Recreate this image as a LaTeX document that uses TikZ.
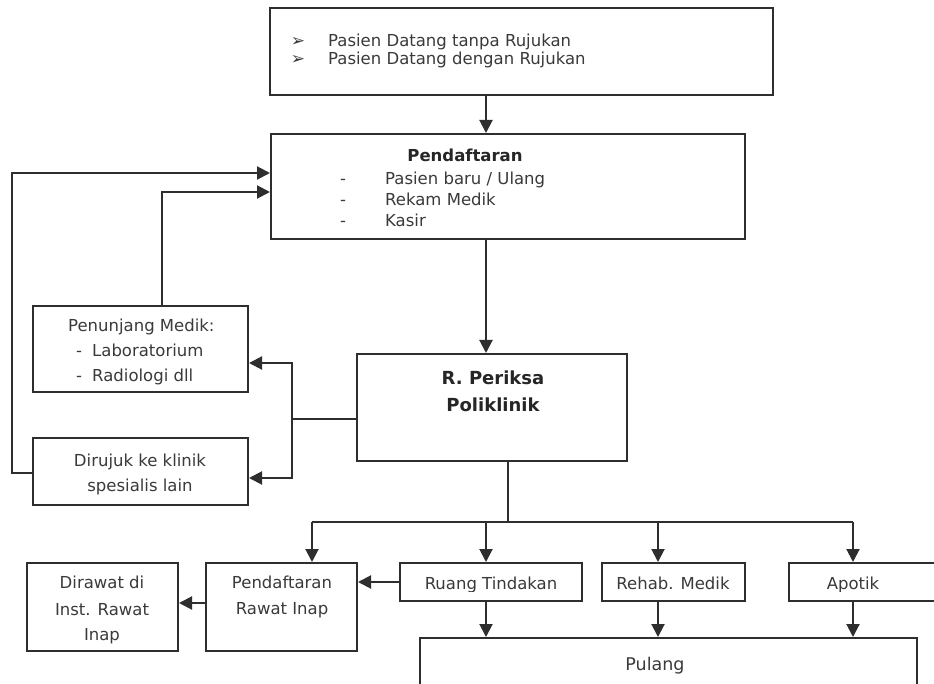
\documentclass[tikz,border=0pt]{standalone}
\usepackage{fontspec}
\setmainfont{DejaVu Sans}
\usetikzlibrary{arrows.meta}
\definecolor{ink}{HTML}{2E2E2E}
\definecolor{txtc}{HTML}{3A3A3A}
\begin{document}
\begin{tikzpicture}[x=1pt,y=-1pt,
  box/.style={draw=ink, line width=2pt, inner sep=0pt, fill=white},
  txt/.style={text=txtc, font=\fontsize{16.5}{19}\selectfont, inner sep=0pt, text height=12pt, text depth=3.5pt},
  btxt/.style={text=black!85, font=\bfseries\fontsize{16.5}{19}\selectfont, inner sep=0pt, text height=12pt, text depth=3.5pt},
  arr/.style={draw=ink, line width=2pt, -{Triangle[length=13pt,width=13pt]}},
  ln/.style={draw=ink, line width=2pt}]
\clip (0,0) rectangle (934,684);
\fill[white] (0,0) rectangle (934,684);

% boxes
\node[box, minimum width=503pt, minimum height=87pt] (top) at (521.5,51.5) {};
\node[box, minimum width=474pt, minimum height=105pt] (pend) at (508,186.5) {};
\node[box, minimum width=270pt, minimum height=107pt] (perik) at (492,407.5) {};
\node[box, minimum width=215pt, minimum height=86pt] (penun) at (140.5,349) {};
\node[box, minimum width=215pt, minimum height=67pt] (diruj) at (140.5,471.5) {};
\node[box, minimum width=151pt, minimum height=88pt] (dirawat) at (102.5,607) {};
\node[box, minimum width=151pt, minimum height=88pt] (pri) at (281.5,607) {};
\node[box, minimum width=182pt, minimum height=38pt] (ruang) at (491,582) {};
\node[box, minimum width=143pt, minimum height=38pt] (rehab) at (673.5,582) {};
\node[box, minimum width=151pt, minimum height=38pt] (apotik) at (864.5,582) {};
\node[box, minimum width=497pt, minimum height=62pt] (pulang) at (668.5,669) {};

% texts
\node[txt, font=\fontsize{17}{19}\selectfont] (b1) at (298,42) {➢};
\node[txt, font=\fontsize{17}{19}\selectfont] (b2) at (298,60) {➢};
\node[txt, anchor=west] (t1) at (328,42) {Pasien Datang tanpa Rujukan};
\node[txt, anchor=west] (t2) at (328,60) {Pasien Datang dengan Rujukan};

\node[btxt] (pt) at (465,157) {Pendaftaran};
\node[txt] (d1) at (343,180) {-};
\node[txt] (d2) at (343,201) {-};
\node[txt] (d3) at (343,222) {-};
\node[txt, anchor=west] (p1) at (385,180) {Pasien baru / Ulang};
\node[txt, anchor=west] (p2) at (385,201) {Rekam Medik};
\node[txt, anchor=west] (p3) at (385,222) {Kasir};

\node[btxt, font=\bfseries\fontsize{18}{21}\selectfont] (r1) at (493,380) {R. Periksa};
\node[btxt, font=\bfseries\fontsize{18}{21}\selectfont] (r2) at (493,407) {Poliklinik};

\node[txt, anchor=west] (pm0) at (68,327) {Penunjang Medik:};
\node[txt] (pmd1) at (79,352) {-};
\node[txt] (pmd2) at (79,377) {-};
\node[txt, anchor=west] (pm1) at (92,352) {Laboratorium};
\node[txt, anchor=west] (pm2) at (92,377) {Radiologi dll};

\node[txt] (dj1) at (140,462) {Dirujuk ke klinik};
\node[txt] (dj2) at (140,487) {spesialis lain};

\node[txt] (dw1) at (102,584) {Dirawat di};
\node[txt] (dw2) at (102,611) {Inst. Rawat};
\node[txt] (dw3) at (102,636) {Inap};

\node[txt] (pr1) at (282,584) {Pendaftaran};
\node[txt] (pr2) at (282,610) {Rawat Inap};

\begin{scope}
\clip (395,560) rectangle (934,591.5);
\node[txt] (rt) at (491,585) {Ruang Tindakan};
\node[txt] (rm) at (673,585) {Rehab. Medik};
\node[txt] (ap) at (853,585) {Apotik};
\end{scope}

\node[txt, font=\fontsize{17.5}{20}\selectfont] (pl) at (655,666) {Pulang};

% connectors
\draw[arr] (486,0 |- top.south) -- (486,0 |- pend.north);
\draw[arr] (486,0 |- pend.south) -- (486,0 |- perik.north);

\coordinate (lp) at (12,473);
\draw[arr] (diruj.west |- lp) -- (lp) |- (pend.west |- 0,173);
\draw[arr] (162,0 |- penun.north) |- (pend.west |- 0,192);

\coordinate (j1) at (292,419);
\draw[ln] (perik.west |- j1) -- (j1);
\draw[arr] (j1) |- (penun.east |- 0,363);
\draw[arr] (j1) |- (diruj.east |- 0,478);

\coordinate (bus) at (508,522);
\draw[ln] (508,0 |- perik.south) -- (bus);
\draw[ln] (312,522) -- (853,522);
\draw[arr] (312,522) -- (312,0 |- pri.north);
\draw[arr] (486,522) -- (486,0 |- ruang.north);
\draw[arr] (658,522) -- (658,0 |- rehab.north);
\draw[arr] (853,522) -- (853,0 |- apotik.north);

\draw[arr] (ruang.west) -- (pri.east |- ruang.west);
\draw[arr] (pri.west |- 0,603) -- (dirawat.east |- 0,603);

\draw[arr] (486,0 |- ruang.south) -- (486,0 |- pulang.north);
\draw[arr] (658,0 |- rehab.south) -- (658,0 |- pulang.north);
\draw[arr] (853,0 |- apotik.south) -- (853,0 |- pulang.north);
\end{tikzpicture}
\end{document}
